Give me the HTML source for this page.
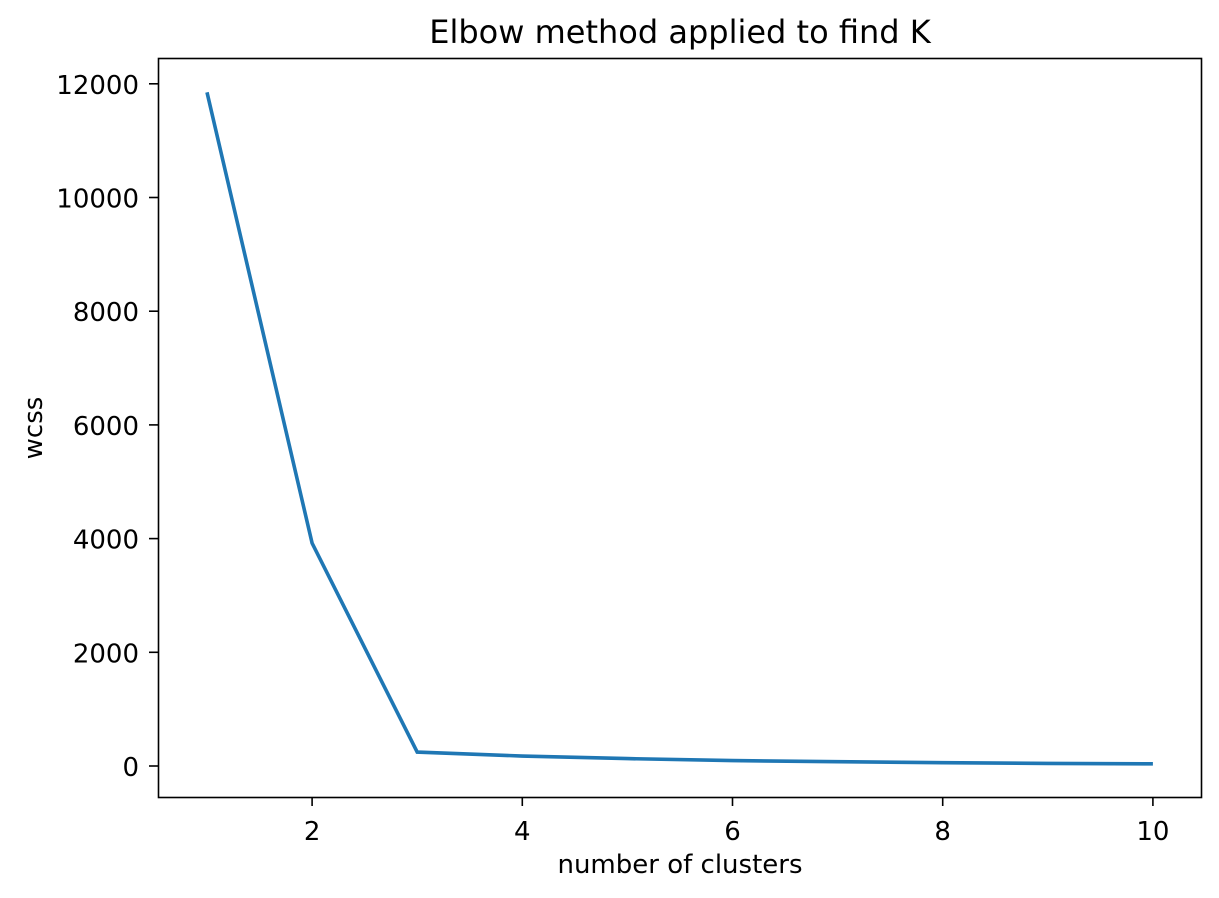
<!DOCTYPE html>
<html><head><meta charset="utf-8"><style>
html,body{margin:0;padding:0;background:#fff;}
svg{display:block;font-family:"DejaVu Sans","Liberation Sans",sans-serif;}
</style></head><body>
<svg id="chart" width="1219" height="898">
<text x="680" y="43" text-anchor="middle" font-size="32" fill="#000">Elbow method applied to find K</text>
<g id="plot"></g>
<rect x="158.5" y="58.5" width="1043" height="739" fill="none" stroke="#000" stroke-width="1.6"/>
<text x="680" y="873" text-anchor="middle" font-size="26">number of clusters</text>
<text x="42" y="428" text-anchor="middle" font-size="26" transform="rotate(-90 42 428)">wcss</text>
</svg>
<script>
const kValues=[1,2,3,4,5,6,7,8,9,10];
const wcss=[11850,3920,245,175,130,95,75,58,45,38];
const xTicks=[2,4,6,8,10];
const yTicks=[0,2000,4000,6000,8000,10000,12000];
const NS="http://www.w3.org/2000/svg";
function xs(v){return 207+(v-1)*105.1;}
function ys(v){return 766-v*0.05685;}
const g=document.getElementById('plot');
xTicks.forEach(t=>{
  const l=document.createElementNS(NS,'line');
  l.setAttribute('x1',xs(t));l.setAttribute('x2',xs(t));l.setAttribute('y1',797);l.setAttribute('y2',806);
  l.setAttribute('stroke','#000');l.setAttribute('stroke-width','1.6');
  
  
  g.appendChild(l);
  const tx=document.createElementNS(NS,'text');
  tx.setAttribute('x',xs(t));tx.setAttribute('y',840);tx.setAttribute('text-anchor','middle');tx.setAttribute('font-size','26');
  tx.textContent=t;
  
  
  g.appendChild(tx);
});
yTicks.forEach(t=>{
  const l=document.createElementNS(NS,'line');
  l.setAttribute('x1',149);l.setAttribute('x2',158);l.setAttribute('y1',ys(t));l.setAttribute('y2',ys(t));
  l.setAttribute('stroke','#000');l.setAttribute('stroke-width','1.6');
  
  
  g.appendChild(l);
  const tx=document.createElementNS(NS,'text');
  tx.setAttribute('x',139);tx.setAttribute('y',ys(t)+10);tx.setAttribute('text-anchor','end');tx.setAttribute('font-size','26');
  tx.textContent=t;
  
  
  g.appendChild(tx);
});
const p=document.createElementNS(NS,'polyline');
p.setAttribute('points',kValues.map((k,i)=>xs(k)+','+ys(wcss[i])).join(' '));
p.setAttribute('fill','none');p.setAttribute('stroke','#1f77b4');p.setAttribute('stroke-width','3.6');


g.appendChild(p);
</script>
</body></html>
